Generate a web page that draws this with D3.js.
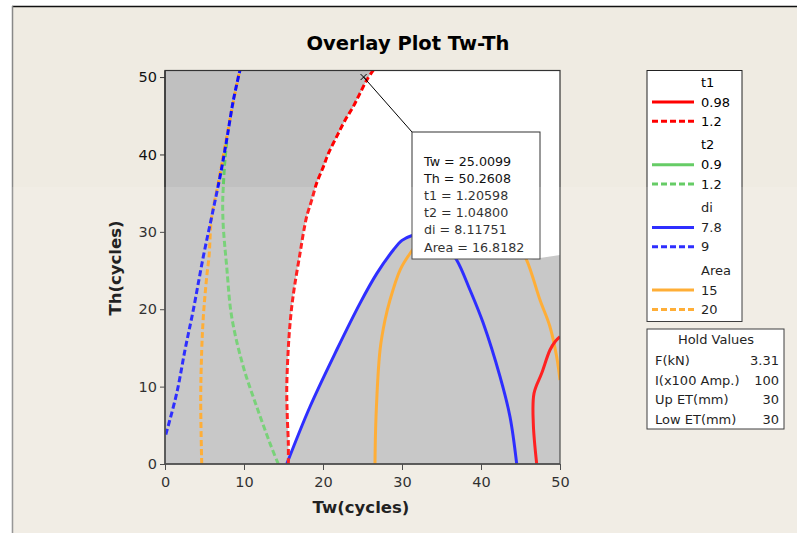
<!DOCTYPE html>
<html><head><meta charset="utf-8">
<script src="https://cdn.jsdelivr.net/npm/d3@7"></script>
<style>
html,body{margin:0;padding:0;background:#fff;}
text{font-family:"DejaVu Sans",sans-serif;}
</style></head>
<body><svg id="c" width="797" height="533"></svg>
<script>
// ---- data (Tw, Th) ----
const xTicks = [0,10,20,30,40,50];
const yTicks = [0,10,20,30,40,50];
const t1High = [[15.61,0],[15.61,2.7],[15.48,6.1],[15.41,9.6],[15.53,13.4],[15.73,16.9],[16.04,20.3],[16.46,23.4],[17.09,27.2],[17.51,29.8],[17.94,32.0],[18.57,34.1],[19.20,36.3],[20.04,38.4],[20.67,40.1],[21.73,42.3],[22.78,44.4],[23.84,46.2],[24.68,47.9],[25.53,49.6],[26.37,50.9]];
const t1Low = [[47.05,0],[46.62,5.26],[46.71,9.13],[47.68,11.72],[48.73,14.73],[49.37,15.8],[50,16.45]];
const t2High = [[14.34,0],[13.29,2.67],[11.61,7.4],[9.91,12.57],[8.44,19.03],[7.81,25.5],[7.38,30.66],[7.30,33.68],[7.38,35.83],[7.59,39.28],[7.85,41.86]];
const diLow = [[15.41,0],[18.35,7.4],[21.73,14.73],[24.68,20.76],[26.8,24.6],[28.9,27.65],[30,28.9],[31.2,29.5],[32.5,29.7],[34,29.3],[35.5,28.2],[36.92,26.36],[38.61,22.48],[40.29,18.18],[42.41,11.28],[43.67,6.11],[44.52,0]];
const diHigh = [[0.1,3.8],[1.48,9.13],[2.53,14.73],[3.58,19.9],[4.85,26.8],[5.91,31.95],[6.96,37.1],[7.81,41.9],[8.65,47.0],[9.49,50.9]];
const areaLow = [[26.58,0],[26.71,6.11],[27.22,14.73],[27.85,18.6],[28.48,21.19],[29.75,25.06],[31.01,27.2],[33,29.8],[35,31.5],[37.5,32.6],[40,32.6],[42.5,31.2],[44.5,28.6],[45.78,26.36],[47.47,21.19],[48.73,17.74],[49.58,13.86],[50,10.85]];
const areaHigh = [[4.65,0],[4.52,8.27],[4.65,14.7],[4.85,19.0],[5.28,24.2],[5.57,26.8],[5.91,31.95],[6.75,36.3],[7.59,41.0],[8.44,45.7],[9.28,50.0],[9.49,50.9]];
// corner points of the feasible (white) region that are not on a contour
const feasibleCorners = [[26.37,50.9],[50,50.9],[50,27.0],[45.78,26.36]];
const legendGroups = [
  {title:"t1", color:"#ff0000", items:["0.98","1.2"]},
  {title:"t2", color:"#66cc66", items:["0.9","1.2"]},
  {title:"di", color:"#1010ff", items:["7.8","9"]},
  {title:"Area", color:"#ffa31a", items:["15","20"]}
];
const holdLabels = ["F(kN)","I(x100 Amp.)","Up ET(mm)","Low ET(mm)"];
const holdValues = ["3.31","100","30","30"];
const annotLines = ["Tw = 25.0099","Th = 50.2608","t1 = 1.20598","t2 = 1.04800","di = 8.11751","Area = 16.8182"];
const annotPoint = [25.0099, 50.2608];

// ---- drawing ----
const svg = d3.select("#c");
svg.append("rect").attr("x",12).attr("y",6).attr("width",785).attr("height",527).attr("fill","#efebe2");
svg.append("line").attr("x1",12).attr("x2",797).attr("y1",6.5).attr("y2",6.5).attr("stroke","#111").attr("stroke-width",1.5);
svg.append("line").attr("x1",12.5).attr("x2",12.5).attr("y1",6).attr("y2",533).attr("stroke","#888").attr("stroke-width",1.5);

const x = d3.scaleLinear().domain([0,50]).range([165,560]);
const y = d3.scaleLinear().domain([0,50.85]).range([464,70.5]);
const line = d3.line().x(d=>x(d[0])).y(d=>y(d[1])).curve(d3.curveCatmullRom);
const lin = d3.line().x(d=>x(d[0])).y(d=>y(d[1]));

svg.append("text").attr("x",408).attr("y",50).attr("text-anchor","middle")
  .attr("font-weight","bold").attr("font-size",19.5).text("Overlay Plot Tw-Th");

svg.append("clipPath").attr("id","pc").append("rect")
  .attr("x",165).attr("y",70.5).attr("width",395).attr("height",393.5);
svg.append("rect").attr("x",165).attr("y",70.5).attr("width",395).attr("height",393.5).attr("fill","#c0c0c0");
const g = svg.append("g").attr("clip-path","url(#pc)");

// white feasible region: right of t1=1.2, above di=7.8 / Area=15 arches
const orangeTop = areaLow.filter(d=>d[0]>=33 && d[0]<=45.78).reverse();
const blueTop = diLow.filter(d=>d[0]<=32.5).reverse();
const regionPath = line(t1High) + lin(feasibleCorners).replace("M","L")
  + line(orangeTop).replace("M","L") + line(blueTop).replace("M","L") + "Z";
g.append("path").attr("d", regionPath).attr("fill","#fff");

function curve(data,color,dashed){
  g.append("path").attr("d",line(data)).attr("fill","none").attr("stroke",color)
   .attr("stroke-width",3).attr("stroke-dasharray",dashed?"6,3":null);
}
curve(t2High,"#66cc66",true);
curve(areaHigh,"#ffa31a",true);
curve(diHigh,"#1010ff",true);
curve(areaLow,"#ffa31a",false);
curve(diLow,"#1010ff",false);
curve(t1Low,"#ff0000",false);
curve(t1High,"#ff0000",true);

svg.append("rect").attr("x",165).attr("y",70.5).attr("width",395).attr("height",393.5)
  .attr("fill","none").attr("stroke","#333").attr("stroke-width",1.2);

// axes
const xa = svg.append("g").attr("transform","translate(0,464)")
  .call(d3.axisBottom(x).tickValues(xTicks).tickSize(6).tickFormat(d3.format("d")));
const ya = svg.append("g").attr("transform","translate(165,0)")
  .call(d3.axisLeft(y).tickValues(yTicks).tickSize(5).tickFormat(d3.format("d")));
[xa,ya].forEach(a=>{a.select(".domain").remove();a.selectAll("line").attr("stroke","#333");
  a.selectAll("text").attr("font-size",14.5).attr("fill","#111").style("font-family",'"DejaVu Sans",sans-serif');});
xa.selectAll("text").attr("dy",null).attr("y",22.5);
ya.selectAll("text").attr("x",-8);
svg.append("line").attr("x1",165).attr("x2",560).attr("y1",464).attr("y2",464).attr("stroke","#333").attr("stroke-width",1.5);
svg.append("line").attr("x1",165).attr("x2",165).attr("y1",70.5).attr("y2",464).attr("stroke","#333").attr("stroke-width",1.5);

svg.append("text").attr("x",361).attr("y",513).attr("text-anchor","middle").attr("font-weight","bold").attr("font-size",16.5).text("Tw(cycles)");
svg.append("text").attr("transform","translate(121,268) rotate(-90)").attr("text-anchor","middle").attr("font-weight","bold").attr("font-size",16.5).text("Th(cycles)");

// annotation
const px = x(annotPoint[0])+1, py = y(annotPoint[1])+2;
svg.append("line").attr("x1",px).attr("y1",py).attr("x2",412).attr("y2",132).attr("stroke","#000").attr("stroke-width",1);
svg.append("path").attr("d",`M${px-3},${py-3}L${px+3},${py+3}M${px-3},${py+3}L${px+3},${py-3}`).attr("stroke","#000").attr("stroke-width",1);
svg.append("rect").attr("x",412).attr("y",132).attr("width",128).attr("height",127).attr("fill","#fff").attr("stroke","#333");
annotLines.forEach((t,i)=>svg.append("text").attr("x",424).attr("y",165.5+i*17.2).attr("font-size",12.7).attr("fill","#111").text(t));

// legend
svg.append("rect").attr("x",647).attr("y",70.5).attr("width",95).attr("height",251).attr("fill","#fff").attr("stroke","#222");
legendGroups.forEach((gr,i)=>{
  const y0 = 82 + i*62.7;
  svg.append("text").attr("x",701).attr("y",y0+4.5).attr("font-size",13).text(gr.title);
  gr.items.forEach((it,j)=>{
    const yy = y0 + 20 + j*19.3;
    svg.append("line").attr("x1",652).attr("x2",694).attr("y1",yy).attr("y2",yy).attr("stroke",gr.color)
      .attr("stroke-width",3).attr("stroke-dasharray",j?"6,3":null);
    svg.append("text").attr("x",701).attr("y",yy+4.5).attr("font-size",13).text(it);
  });
});

// hold values
svg.append("rect").attr("x",647).attr("y",329).attr("width",137).attr("height",100).attr("fill","#fff").attr("stroke","#222");
svg.append("text").attr("x",716).attr("y",344).attr("text-anchor","middle").attr("font-size",13).text("Hold Values");
holdLabels.forEach((l,i)=>{
  const yy = 365 + i*19.6;
  svg.append("text").attr("x",655).attr("y",yy).attr("font-size",13).text(l);
  svg.append("text").attr("x",779).attr("y",yy).attr("text-anchor","end").attr("font-size",13).text(holdValues[i]);
});

// watermark tint on lower part
svg.append("rect").attr("x",12).attr("y",187).attr("width",785).attr("height",346).attr("fill","#fff").attr("opacity",0.13).style("pointer-events","none");
</script></body></html>
